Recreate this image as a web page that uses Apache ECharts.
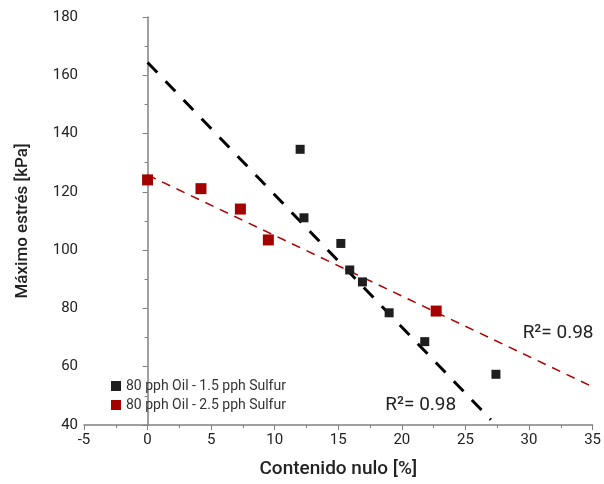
<!DOCTYPE html>
<html><head><meta charset="utf-8">
<script src="https://cdn.jsdelivr.net/npm/echarts@6/dist/echarts.min.js"></script>
<style>html,body{margin:0;padding:0;background:#fff}#c{width:604px;height:484px}</style>
</head><body><div id="c"></div>
<script>
const seriesNames = ['80 pph Oil - 1.5 pph Sulfur', '80 pph Oil - 2.5 pph Sulfur'];
const blackPts = [[12.0,134.6],[12.3,111.1],[15.2,102.3],[15.9,93.2],[16.9,89.1],[19.0,78.5],[21.8,68.6],[27.4,57.4]];
const redPts = [[0,124.1],[4.2,121.1],[7.3,114.1],[9.5,103.5],[22.7,79.1]];
const blackFit = [[0,164.4],[27.0,41.8]];
const redFit = [[0,125.8],[35,53.1]];
const r2Labels = ['R²= 0.98', 'R²= 0.98'];
const r2BlackPos = [18.7, 46.9];
const r2RedPos = [29.5, 71.6];

const chart = echarts.init(document.getElementById('c'));
const font = 'Roboto';
const r2Label = (t) => ({show: true, position: 'right', distance: 0, formatter: t,
  fontFamily: font, fontSize: 19, color: '#222'});
chart.setOption({
  animation: false,
  textStyle: {fontFamily: font},
  grid: {left: 84, right: 11, top: 17, bottom: 59},
  legend: {
    data: seriesNames, orient: 'vertical', left: 106, top: 374,
    icon: 'rect', itemWidth: 10, itemHeight: 10, itemGap: 5,
    textStyle: {fontFamily: font, fontSize: 14, color: '#333'}
  },
  xAxis: {
    type: 'value', min: -5, max: 35, interval: 5,
    name: 'Contenido nulo [%]', nameLocation: 'middle', nameGap: 35,
    nameTextStyle: {fontFamily: font, fontSize: 19, fontWeight: 500, color: '#222'},
    axisLine: {lineStyle: {color: '#808080', width: 1.5}},
    axisTick: {inside: false, length: 5, lineStyle: {color: '#808080'}},
    minorTick: {show: true, splitNumber: 2, length: 3, lineStyle: {color: '#808080'}},
    splitLine: {show: false},
    axisLabel: {fontFamily: font, fontSize: 15, color: '#222', margin: 8}
  },
  yAxis: {
    type: 'value', min: 40, max: 180, interval: 20,
    name: 'Máximo estrés [kPa]', nameLocation: 'middle', nameGap: 53,
    nameTextStyle: {fontFamily: font, fontSize: 17, fontWeight: 500, color: '#222'},
    axisLine: {show: true, lineStyle: {color: '#808080', width: 1.5}},
    axisTick: {show: true, length: 5, lineStyle: {color: '#808080'}},
    minorTick: {show: true, splitNumber: 2, length: 3, lineStyle: {color: '#808080'}},
    splitLine: {show: false},
    axisLabel: {fontFamily: font, fontSize: 15, color: '#222', margin: 6}
  },
  series: [
    {name: 'fitBlack', type: 'line', data: blackFit, symbol: 'none', silent: true,
     lineStyle: {color: '#000', width: 3, type: [14, 12]}, z: 2,
     markPoint: {symbolSize: 0, data: [{coord: r2BlackPos, value: r2Labels[0]}], label: r2Label(r2Labels[0])}},
    {name: 'fitRed', type: 'line', data: redFit, symbol: 'none', silent: true,
     lineStyle: {color: '#b00000', width: 1.5, type: [9, 7]}, z: 2,
     markPoint: {symbolSize: 0, data: [{coord: r2RedPos, value: r2Labels[1]}], label: r2Label(r2Labels[1])}},
    {name: seriesNames[0], type: 'scatter', data: blackPts, symbol: 'rect', symbolSize: 9,
     itemStyle: {color: '#1e1e1e', opacity: 1}, z: 3},
    {name: seriesNames[1], type: 'scatter', data: redPts, symbol: 'rect', symbolSize: 11,
     itemStyle: {color: '#a30000', opacity: 1}, z: 3}
  ]
});
</script></body></html>
